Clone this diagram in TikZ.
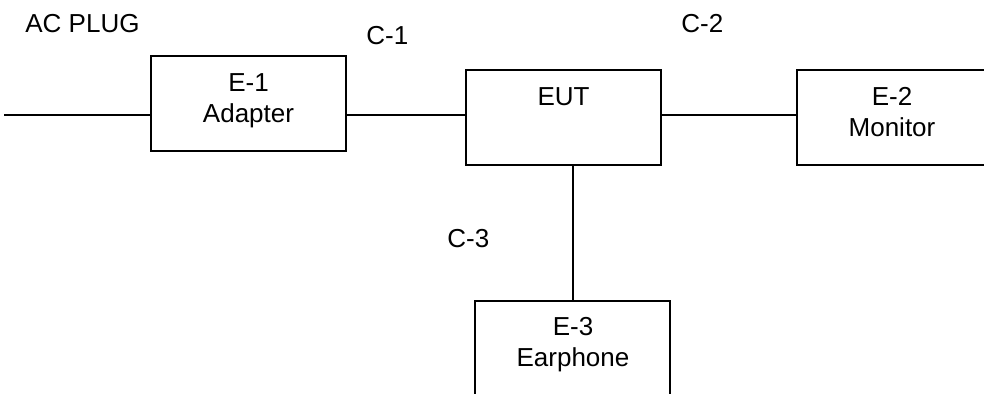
\documentclass[tikz,border=0pt]{standalone}
\usepackage{fontspec}
\setmainfont{Liberation Sans}
\begin{document}
\begin{tikzpicture}[x=0.5pt,y=-0.5pt,
  box/.style={draw,line width=1pt,minimum width=97.5pt,minimum height=47.5pt,inner sep=0pt},
  txt/.style={anchor=base,inner sep=0pt,font=\fontsize{13}{15.5}\selectfont},
  lbl/.style={anchor=base west,inner sep=0pt,font=\fontsize{13}{15.5}\selectfont},
  wire/.style={line width=1pt}]
\clip (0,0) rectangle (984,394);
\useasboundingbox (0,0) rectangle (984,394);
% boxes
\node[box] (e1) at (248.5,103.5) {};
\node[box] (eut) at (563.5,118) {};
\node[box] (e2) at (894.5,118) {};
\node[box] (e3) at (572.5,348.5) {};
% box texts
\node[txt] (e1a) at (248.5,92) {E-1};
\node[txt] (e1b) at (248.5,123) {Adapter};
\node[txt] (euta) at (563.5,106) {EUT};
\node[txt] (e2a) at (892,106) {E-2};
\node[txt] (e2b) at (892,137) {Monitor};
\node[txt] (e3a) at (573,336) {E-3};
\node[txt] (e3b) at (573,367) {Earphone};
% labels
\node[lbl] (acplug) at (25,33) {AC PLUG};
\node[lbl] (c1) at (366,45) {C-1};
\node[lbl] (c2) at (681,33) {C-2};
\node[lbl] (c3) at (447,248) {C-3};
% connectors
\coordinate (plug) at (4,115);
\draw[wire] (plug) -- (plug -| e1.west);
\draw[wire] (e1.east |- plug) -- (eut.west |- plug);
\draw[wire] (eut.east |- plug) -- (e2.west |- plug);
\draw[wire] (e3.north) -- (e3.north |- eut.south);
\end{tikzpicture}
\end{document}
